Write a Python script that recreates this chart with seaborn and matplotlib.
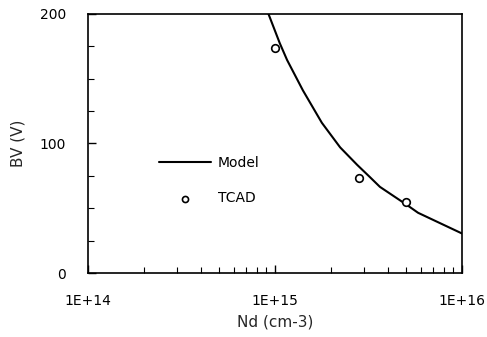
import numpy as np
import pandas as pd
import seaborn as sns
import matplotlib
matplotlib.use("Agg")
import matplotlib.pyplot as plt
from matplotlib.ticker import LogLocator, FixedLocator, NullFormatter

# Model curve
model_nd = [8.9e14, 9.06e14, 1.06e15, 1.16e15, 1.41e15, 1.78e15, 2.23e15, 2.75e15,
            3.22e15, 3.64e15, 5.08e15, 5.82e15, 7.5e15, 1.0e16]
model_bv = [206, 203, 177.5, 164.5, 141, 116, 97, 83.5, 74, 66.5, 52.5, 46.5, 39, 30.5]
# TCAD points
tcad_nd = [1.0e15, 2.81e15, 5.0e15]
tcad_bv = [174, 73, 55]

xticks = [1e14, 1e15, 1e16]
xticklabels = ["1E+14", "1E+15", "1E+16"]
yticks = [0, 100, 200]

sns.set_theme(style="white")
plt.rcParams['font.family'] = ['DejaVu Sans']

fig = plt.figure(figsize=(4.87, 3.37), dpi=100)
ax = fig.add_axes([0.1807, 0.1899, 0.9487 - 0.1807, 0.9585 - 0.1899])

df_model = pd.DataFrame({"Nd": model_nd, "BV": model_bv})
df_tcad = pd.DataFrame({"Nd": tcad_nd, "BV": tcad_bv})

sns.lineplot(data=df_model, x="Nd", y="BV", ax=ax, color="black", lw=1.5,
             label="Model", sort=True)
sns.scatterplot(data=df_tcad, x="Nd", y="BV", ax=ax, marker="o", s=30,
                facecolor="white", edgecolor="black", linewidth=1.2,
                label="TCAD", zorder=3)

ax.set_xscale("log")
ax.set_xlim(1e14, 1e16)
ax.set_ylim(0, 200)
ax.set_xticks(xticks)
ax.set_xticklabels(xticklabels)
ax.xaxis.set_minor_locator(LogLocator(base=10, subs=np.arange(2, 10)))
ax.xaxis.set_minor_formatter(NullFormatter())
ax.set_yticks(yticks)
ax.yaxis.set_minor_locator(FixedLocator([25, 50, 75, 125, 150, 175]))

ax.tick_params(axis="both", which="major", direction="in", length=6, width=1,
               colors="black", labelsize=10, top=False, right=False,
               bottom=True, left=True)
ax.tick_params(axis="x", which="major", pad=15)
ax.tick_params(axis="y", which="major", pad=16)
ax.tick_params(axis="both", which="minor", direction="in", length=4, width=0.8,
               color="black", top=False, right=False, bottom=True, left=True)

for s in ax.spines.values():
    s.set_color("black")
    s.set_linewidth(1.2)

ax.set_xlabel("Nd (cm-3)", fontsize=11, labelpad=5)
ax.set_ylabel("BV (V)", fontsize=11, labelpad=10)
ax.grid(False)

leg = ax.legend(loc="upper left", bbox_to_anchor=(0.19, 0.452), frameon=False,
                fontsize=10, handlelength=3.75, handletextpad=0.5,
                labelspacing=1.55, borderpad=0, borderaxespad=0,
                markerscale=0.8)
for t in leg.get_texts():
    t.set_color("black")

fig.savefig("out.png", dpi=100)
